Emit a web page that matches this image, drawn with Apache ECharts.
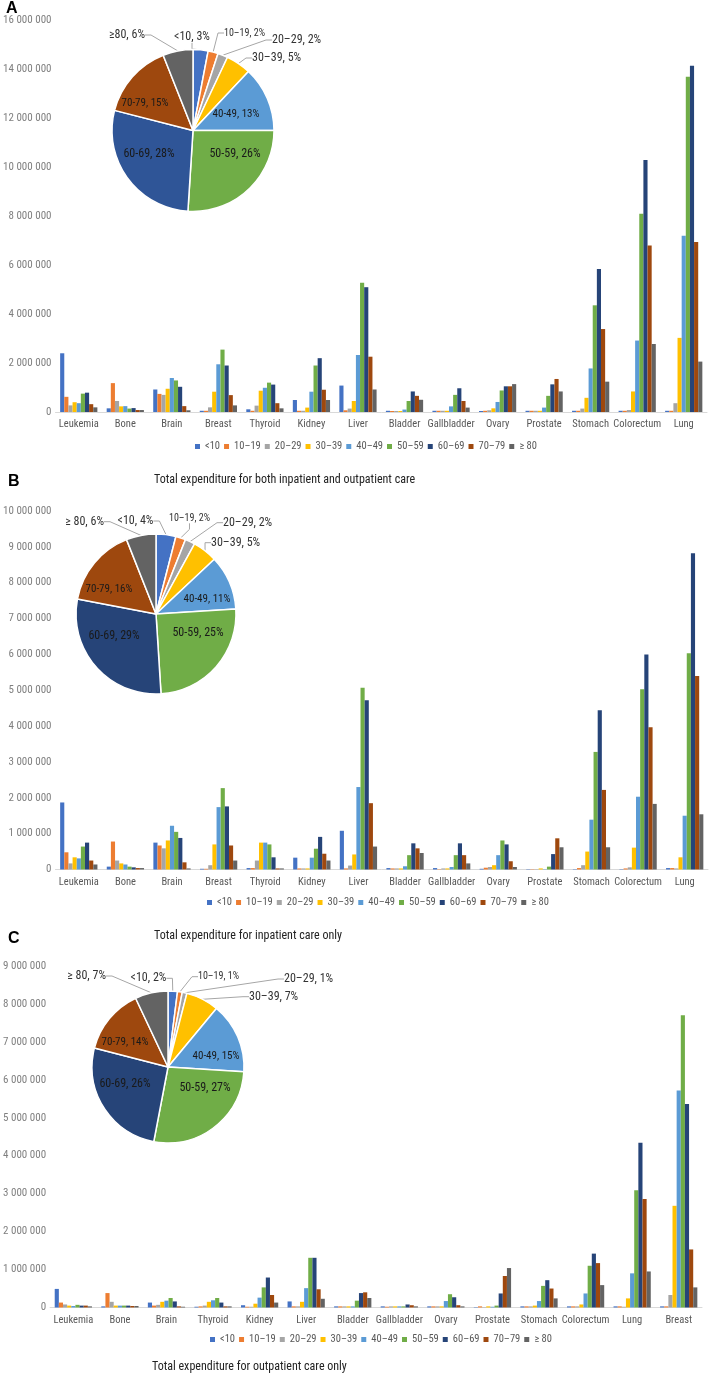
<!DOCTYPE html>
<html><head><meta charset="utf-8">
<script src="https://cdn.jsdelivr.net/npm/echarts@6/dist/echarts.min.js"></script>
<style>html,body{margin:0;padding:0;background:#fff}#c{width:709px;height:1375px}</style>
</head><body><div id="c"></div>
<script>
// ---------- data ----------
const ageGroups = ['<10','10–19','20–29','30–39','40–49','50–59','60–69','70–79','≥ 80'];
const cancersAB = ['Leukemia','Bone','Brain','Breast','Thyroid','Kidney','Liver','Bladder','Gallbladder','Ovary','Prostate','Stomach','Colorectum','Lung'];
const cancersC  = ['Leukemia','Bone','Brain','Thyroid','Kidney','Liver','Bladder','Gallbladder','Ovary','Prostate','Stomach','Colorectum','Lung','Breast'];

// values in millions, one row per age group (order of ageGroups), one column per cancer
const totalA = [
  [2.40,0.15,0.92,0.05,0.11,0.49,1.08,0.05,0.05,0.04,0.05,0.05,0.05,0.05],
  [0.62,1.18,0.74,0.05,0.05,0.05,0.07,0.04,0.05,0.05,0.05,0.05,0.05,0.05],
  [0.27,0.45,0.70,0.19,0.26,0.05,0.14,0.04,0.05,0.07,0.05,0.14,0.08,0.36],
  [0.40,0.23,0.95,0.83,0.87,0.18,0.45,0.04,0.05,0.15,0.05,0.58,0.84,3.03],
  [0.36,0.24,1.39,1.95,0.99,0.83,2.33,0.10,0.23,0.41,0.18,1.78,2.92,7.20],
  [0.75,0.14,1.29,2.55,1.20,1.90,5.28,0.45,0.70,0.88,0.66,4.36,8.10,13.70],
  [0.79,0.16,1.03,1.90,1.12,2.20,5.10,0.84,0.97,1.05,1.13,5.84,10.30,14.15],
  [0.32,0.08,0.24,0.69,0.36,0.91,2.26,0.66,0.45,1.05,1.35,3.39,6.80,6.95],
  [0.19,0.08,0.07,0.27,0.15,0.49,0.92,0.50,0.18,1.14,0.84,1.24,2.78,2.06]
];
const inpatientB = [
  [1.87,0.08,0.75,0.02,0.04,0.33,1.08,0.04,0.04,0.02,0.01,0.01,0.01,0.04],
  [0.48,0.78,0.67,0.02,0.04,0.03,0.03,0.03,0.01,0.05,0.01,0.04,0.03,0.04],
  [0.17,0.25,0.59,0.12,0.25,0.03,0.11,0.03,0.03,0.07,0.01,0.12,0.06,0.03],
  [0.34,0.17,0.81,0.70,0.75,0.03,0.42,0.03,0.03,0.12,0.03,0.50,0.61,0.34],
  [0.31,0.14,1.22,1.74,0.75,0.33,2.30,0.09,0.07,0.40,0.01,1.39,2.03,1.50],
  [0.64,0.08,1.05,2.27,0.70,0.58,5.07,0.40,0.40,0.81,0.08,3.28,5.03,6.03],
  [0.75,0.06,0.88,1.76,0.34,0.91,4.72,0.73,0.73,0.70,0.43,4.44,6.00,8.82],
  [0.25,0.04,0.20,0.67,0.03,0.44,1.85,0.59,0.40,0.23,0.87,2.22,3.97,5.40],
  [0.14,0.04,0.03,0.25,0.03,0.25,0.64,0.46,0.17,0.07,0.62,0.62,1.83,1.54]
];
const outpatientC = [
  [0.49,0.03,0.13,0.02,0.06,0.16,0.03,0.03,0.03,0.01,0.03,0.03,0.03,0.03],
  [0.13,0.38,0.05,0.03,0.02,0.03,0.03,0.02,0.03,0.03,0.03,0.03,0.03,0.03],
  [0.08,0.15,0.07,0.05,0.02,0.03,0.03,0.03,0.03,0.01,0.03,0.03,0.02,0.33],
  [0.05,0.05,0.15,0.15,0.10,0.15,0.03,0.03,0.03,0.03,0.05,0.08,0.24,2.68],
  [0.04,0.05,0.18,0.19,0.26,0.51,0.03,0.03,0.17,0.02,0.17,0.37,0.90,5.72],
  [0.07,0.05,0.25,0.25,0.53,1.31,0.18,0.03,0.35,0.05,0.57,1.10,3.09,7.70],
  [0.05,0.05,0.16,0.13,0.79,1.31,0.38,0.08,0.27,0.37,0.72,1.42,4.34,5.36],
  [0.05,0.04,0.03,0.03,0.33,0.48,0.40,0.06,0.06,0.83,0.50,1.17,2.86,1.53],
  [0.03,0.04,0.02,0.03,0.13,0.23,0.25,0.03,0.03,1.04,0.24,0.59,0.95,0.53]
];

// pie shares (%)
const pieNamesA = ['<10','10–19','20–29','30–39','40-49','50-59','60-69','70-79','≥80'];
const pieNamesBC = ['<10','10–19','20–29','30–39','40-49','50-59','60-69','70-79','≥ 80'];
const pieShareA = [3,2,2,5,13,26,28,15,6];
const pieShareB = [4,2,2,5,11,25,29,16,6];
const pieShareC = [2,1,1,7,15,27,26,14,7];

const titleA = 'Total expenditure for both inpatient and outpatient care';
const titleB = 'Total expenditure for inpatient care only';
const titleC = 'Total expenditure for outpatient care only';

// ---------- styles ----------
const colors = ['#4472C4','#ED7D31','#A5A5A5','#FFC000','#5B9BD5','#70AD47','#264478','#9E480E','#636363'];
const FONT = "'Roboto Condensed','Open Sans Condensed',sans-serif";

const panels = [
  {data: totalA, cats: cancersAB, grid:{left:53,right:2,top:20.5,bottom:963}, max:16, interval:2,
   legendTop:441, legendLeft:195,
   pie:{center:[193,130.5], r:81, names:pieNamesA, share:pieShareA, dark6:'#2F5597',
        pos:[[-1,-93.5,'center'],[31,-97.5,'left'],[79,-90.5,'left'],[59,-72.5,'left'],
             [43,-16.5,'center'],[42,23.5,'center'],[-44,23.5,'center'],[-48,-27.5,'center'],[-48,-95.5,'right']]}},
  {data: inpatientB, cats: cancersAB, grid:{left:50,right:1,top:511,bottom:505.5}, max:10, interval:1,
   legendTop:897, legendLeft:207,
   pie:{center:[156,614], r:80, names:pieNamesBC, share:pieShareB, dark6:'#264478',
        pos:[[-20.5,-93,'center'],[13,-95.7,'left'],[67,-91.3,'left'],[55,-71.3,'left'],
             [51,-14.7,'center'],[42,19.3,'center'],[-42,22,'center'],[-47,-25,'center'],[-52,-92.3,'right']]}},
  {data: outpatientC, cats: cancersC, grid:{left:42,right:7,top:966,bottom:67.5}, max:9, interval:1,
   legendTop:1334, legendLeft:210,
   pie:{center:[168,1067], r:76, names:pieNamesBC, share:pieShareC, dark6:'#264478',
        pos:[[-19.5,-88.7,'center'],[30,-90.3,'left'],[116,-88,'left'],[81,-70.3,'left'],
             [48,-11,'center'],[37,21.3,'center'],[-43,17.3,'center'],[-43,-24.7,'center'],[-62,-91,'right']]}}
];

function fmtNum(v){
  const n = Math.round(v*1e6);
  if (n === 0) return '0';
  return String(n).replace(/\B(?=(\d{3})+(?!\d))/g,' ');
}

const grids=[], xAxes=[], yAxes=[], series=[], legends=[];
panels.forEach((p, pi) => {
  grids.push(Object.assign({containLabel:false}, p.grid));
  xAxes.push({type:'category', gridIndex:pi, data:p.cats,
    axisLine:{lineStyle:{color:'#d9d9d9'}}, axisTick:{show:false},
    axisLabel:{color:'#595959', fontSize:10.5, fontFamily:FONT, margin:7, interval:0}});
  yAxes.push({type:'value', gridIndex:pi, min:0, max:p.max, interval:p.interval,
    axisLine:{show:false}, axisTick:{show:false}, splitLine:{show:false},
    axisLabel:{color:'#7f7f7f', fontSize:11, fontFamily:FONT, margin:4, formatter:fmtNum}});
  ageGroups.forEach((ag, ai) => {
    series.push({type:'bar', name:ag, xAxisIndex:pi, yAxisIndex:pi, data:p.data[ai],
      barGap:'0%', barCategoryGap:'20%', itemStyle:{color:colors[ai]}, animation:false});
  });
  legends.push({data:ageGroups, top:p.legendTop, left:p.legendLeft, icon:'rect',
    itemWidth:5, itemHeight:5, itemGap:4, padding:0,
    textStyle:{color:'#595959', fontSize:10.5, fontFamily:FONT}});
  const pc = p.pie;
  series.push({type:'pie', center:pc.center, radius:pc.r, startAngle:90, clockwise:true,
    avoidLabelOverlap:false, animation:false, z:5,
    itemStyle:{borderColor:'#fff', borderWidth:1.5},
    labelLine:{length:6, length2:6, lineStyle:{color:'#a6a6a6', width:1}},
    labelLayout: function(params){
      const o = pc.pos[params.dataIndex];
      return {x: pc.center[0]+o[0], y: pc.center[1]+o[1], align:o[2], verticalAlign:'middle'};
    },
    data: pc.names.map((n, i) => {
      const inside = i>=4 && i<=7;
      return {name:n, value:pc.share[i],
        itemStyle:{color: i===6 ? pc.dark6 : colors[i]},
        label:{show:true, position: inside ? 'inside':'outside',
          formatter: n + ', ' + pc.share[i] + '%',
          color: inside ? '#1a1a1a' : '#333',
          fontSize: (i===1 ? 10 : (inside && (i===4 || i===7) ? 11 : 12)),
          fontFamily: FONT},
        labelLine:{show: !inside}};
    })});
});

const txt = (text, left, top, size, bold) => ({text, left, top, padding:0,
  textStyle:{fontSize:size, fontWeight: bold?'bold':'normal', color: bold?'#000':'#222', fontFamily: bold? "'Liberation Sans',Arial,sans-serif" : FONT}});

const option = {
  animation:false,
  title:[
    txt('A', 6, 1, 16, true),
    txt(titleA, 154, 474, 12, false),
    txt('B', 8, 474, 16, true),
    txt(titleB, 154, 930, 12, false),
    txt('C', 8, 931, 16, true),
    txt(titleC, 152, 1361, 12, false)
  ],
  legend: legends,
  grid: grids, xAxis: xAxes, yAxis: yAxes, series
};
const chart = echarts.init(document.getElementById('c'), null, {renderer:'canvas'});
chart.setOption(option);
</script></body></html>
